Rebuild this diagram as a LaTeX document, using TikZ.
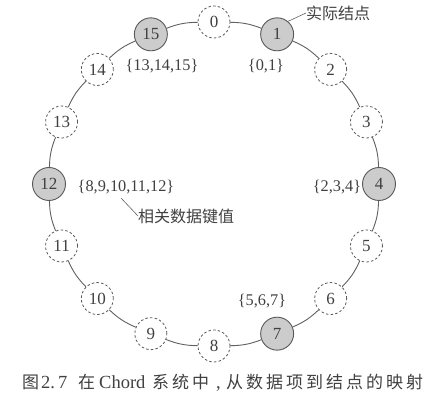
\documentclass[tikz,border=0pt]{standalone}
\usepackage{fontspec}
\setmainfont{Liberation Serif}
\newfontfamily\cjk{Noto Sans CJK SC}
\newfontfamily\cjkcap[LetterSpace=17.6]{Noto Sans CJK SC}
\begin{document}
\begin{tikzpicture}[x=1pt,y=1pt,
  ringline/.style={draw=black!62, line width=0.9pt},
  realnode/.style={circle, draw=black!65, line width=0.9pt, fill=black!20, minimum size=33pt, inner sep=0pt, font=\fontsize{17}{17}\selectfont, text=black!75},
  virtnode/.style={circle, draw=black!65, line width=0.8pt, dash pattern=on 2.5pt off 2.2pt, fill=white, minimum size=32pt, inner sep=0pt, font=\fontsize{17}{17}\selectfont, text=black!75},
  keylabel/.style={font=\fontsize{16.3}{16}\selectfont, text=black!75, inner sep=0pt},
  cnlabel/.style={font=\cjk\fontsize{16}{16}\selectfont, text=black!75, inner sep=0pt},
  cappart/.style={inner sep=0pt, anchor=base west, text=black!75},
  capcn/.style={cappart, font=\cjkcap\fontsize{17}{17}\selectfont},
  caplat/.style={cappart, font=\fontsize{18.5}{18}\selectfont},
  leader/.style={draw=black!62, line width=0.6pt}]
\useasboundingbox (0,0) rectangle (424,-403);
\foreach \k in {0,...,15}{
  \pgfmathsetmacro{\ang}{90-22.5*\k}
  \coordinate (p\k) at ({214+165*cos(\ang)},{-184+162*sin(\ang)});
}
\foreach \k in {0,2,3,5,6,8,9,10,11,13,14}{
  \node[virtnode] (n\k) at (p\k) {\k};
}
\foreach \k in {1,4,7,12,15}{
  \node[realnode] (n\k) at (p\k) {\k};
}
\foreach \a/\b in {0/1,1/2,2/3,3/4,4/5,5/6,6/7,7/8,8/9,9/10,10/11,11/12,12/13,13/14,14/15,15/0}{
  \draw[ringline] (n\a) to[bend left=10] (n\b);
}
% labels
\node[cnlabel, anchor=west] (lreal) at (306,-13) {实际结点};
\draw[leader] (n1.50) -- (lreal.west);
\node[keylabel] (k1) at (266,-66) {\{0,1\}};
\node[keylabel] (k15) at (162,-66) {\{13,14,15\}};
\node[keylabel] (k12) at (126,-187) {\{8,9,10,11,12\}};
\node[keylabel] (k4) at (337,-187) {\{2,3,4\}};
\node[keylabel] (k7) at (262,-301) {\{5,6,7\}};
\node[cnlabel, anchor=west] (lkeys) at (138,-216) {相关数据键值};
\coordinate (lk0) at (121,-198);
\draw[leader] (lk0) -- (lkeys.west);
% caption
\node[capcn] (c1) at (22,-389) {图};
\node[caplat] (c2) at (41,-389) {2.\,7};
\node[capcn] (c3) at (78,-389) {在};
\node[caplat] (c4) at (99,-389) {Chord};
\node[capcn] (c5) at (152,-389) {系统中};
\node[caplat] (c6) at (216,-389) {,};
\node[capcn] (c7) at (226,-389) {从数据项到结点的映射};
\end{tikzpicture}
\end{document}
